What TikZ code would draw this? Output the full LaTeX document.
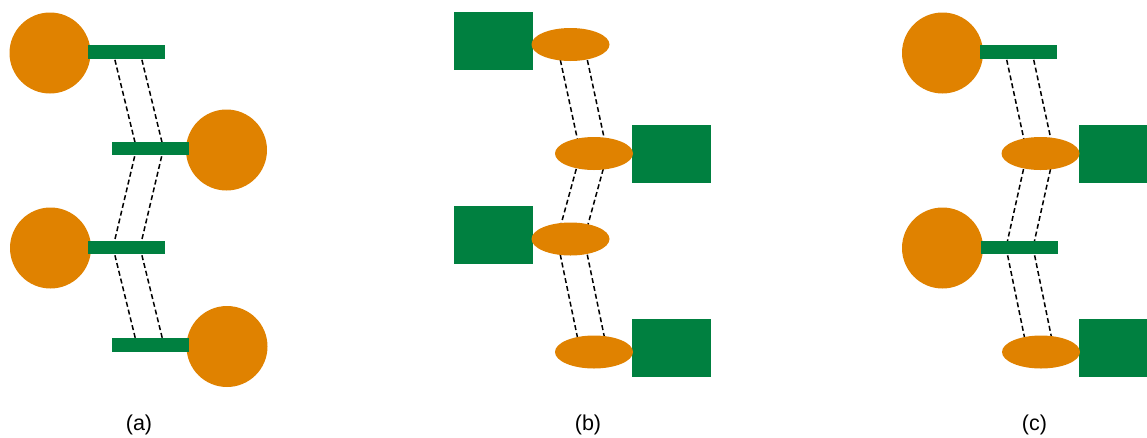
\documentclass[tikz,border=0pt]{standalone}
\usepackage{fontspec}
\setmainfont{Liberation Sans}
\usetikzlibrary{shapes.geometric, backgrounds}
\definecolor{beadorange}{RGB}{224,130,0}
\definecolor{stemgreen}{RGB}{0,128,64}
\tikzset{
    base/.style={inner sep=0pt, outer sep=0pt, draw=none},
    bead/.style={base, circle, minimum size=81pt, fill=beadorange},
    stem/.style={base, rectangle, minimum width=77pt, minimum height=13.5pt, fill=stemgreen},
    blob/.style={base, ellipse, minimum width=78pt, minimum height=33pt, fill=beadorange},
    block/.style={base, rectangle, minimum width=79pt, minimum height=58pt, fill=stemgreen},
    tag/.style={font=\fontsize{21.5}{26}\selectfont, anchor=base},
    link/.style={dash pattern=on 5pt off 3pt, line width=1.5pt, draw=black}
}

\begin{document}
\begin{tikzpicture}[x=1pt, y=-1pt]
    \useasboundingbox (0,0) rectangle (1147,437);

    % (a) circles with bars
    \node (ca1) [bead] at (50,53) {};
    \node (ba1) [stem] at (126.5,52) {};
    \node (ca2) [bead] at (226.5,150) {};
    \node (ba2) [stem] at (150,148.5) {};
    \node (ca3) [bead] at (50.5,248) {};
    \node (ba3) [stem] at (126.5,247.5) {};
    \node (ca4) [bead] at (227,346.5) {};
    \node (ba4) [stem] at (150.5,345) {};
    \node (la) [tag] at (139,430) {(a)};

    % (b) squares with ellipses
    \node (qb1) [block] at (493.5,41) {};
    \node (eb1) [blob] at (570.5,44.5) {};
    \node (qb2) [block] at (671,153.5) {};
    \node (eb2) [blob] at (594,153.5) {};
    \node (qb3) [block] at (493.5,234.5) {};
    \node (eb3) [blob] at (570.5,239) {};
    \node (qb4) [block] at (671,348) {};
    \node (eb4) [blob] at (594,352) {};
    \node (lb) [tag] at (588,430) {(b)};

    % (c) mixed
    \node (cc1) [bead] at (942.5,53) {};
    \node (bc1) [stem] at (1018.5,52) {};
    \node (qc2) [block] at (1118.5,153.5) {};
    \node (ec2) [blob] at (1040.5,153.5) {};
    \node (cc3) [bead] at (942.5,248) {};
    \node (bc3) [stem] at (1019.5,247.5) {};
    \node (qc4) [block] at (1118.5,348) {};
    \node (ec4) [blob] at (1041,352) {};
    \node (lc) [tag] at (1034.5,430) {(c)};

    % dashed links behind the shapes
    \begin{scope}[on background layer]
        \foreach \u/\v in {ba1/ba2, ba2/ba3, ba3/ba4, eb1/eb2, eb2/eb3, eb3/eb4, bc1/ec2, ec2/bc3, bc3/ec4}
            \foreach \s in {-13.5,13.5}
                \draw [link] ([xshift=\s pt]\u.center) -- ([xshift=\s pt]\v.center);
    \end{scope}
\end{tikzpicture}
\end{document}
